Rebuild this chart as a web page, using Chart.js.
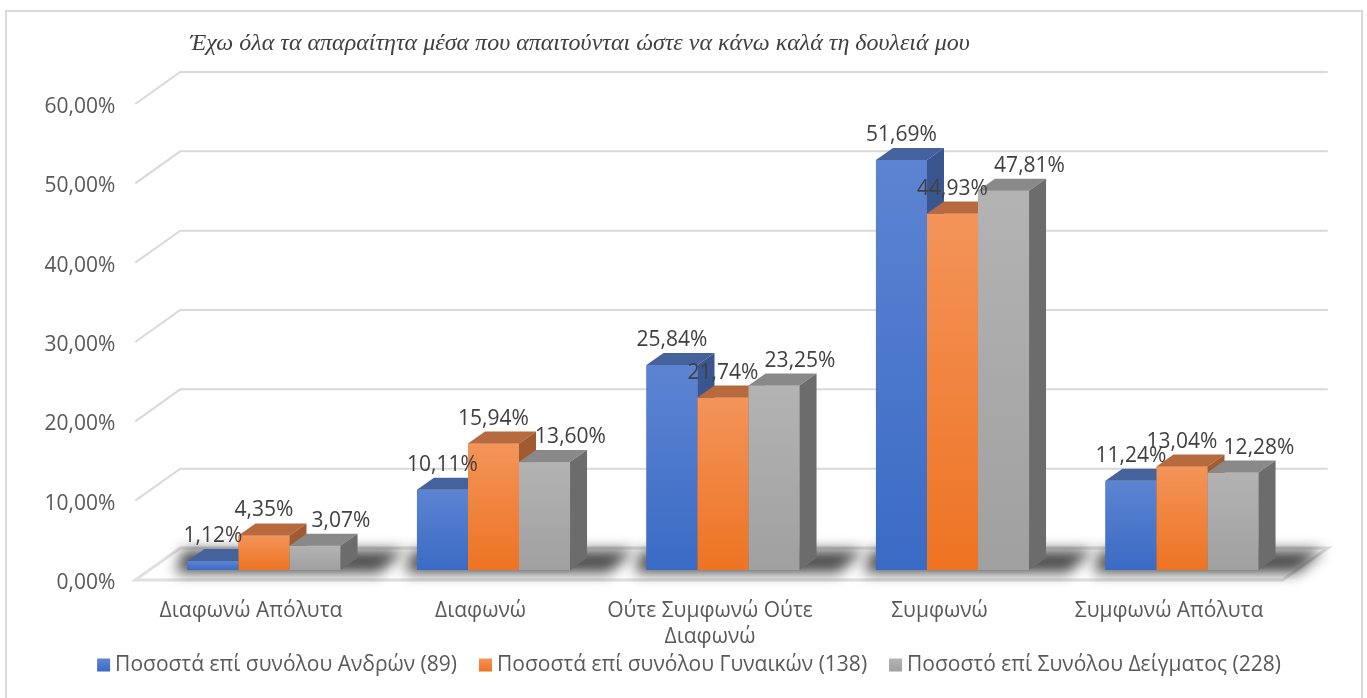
<!DOCTYPE html>
<html lang="el">
<head>
<meta charset="utf-8">
<title>Μέσα εργασίας</title>
<script src="https://cdn.jsdelivr.net/npm/chart.js"></script>
<style>
  html, body { margin: 0; padding: 0; background: #fff; overflow: hidden; }
</style>
</head>
<body>
<canvas id="chart" width="1367" height="698"></canvas>
<script>
// answers per category, in percent
const categories = ['Διαφωνώ Απόλυτα', 'Διαφωνώ', ['Ούτε Συμφωνώ Ούτε', 'Διαφωνώ'], 'Συμφωνώ', 'Συμφωνώ Απόλυτα'];
const seriesNames = [
  'Ποσοστά επί συνόλου Ανδρών (89)',
  'Ποσοστά επί συνόλου Γυναικών (138)',
  'Ποσοστό επί Συνόλου Δείγματος (228)'
];
const men = [1.12, 10.11, 25.84, 51.69, 11.24];
const women = [4.35, 15.94, 21.74, 44.93, 13.04];
const sample = [3.07, 13.60, 23.25, 47.81, 12.28];
const yTicks = [0, 10, 20, 30, 40, 50, 60];
const chartTitle = 'Έχω όλα τα απαραίτητα μέσα που απαιτούνται ώστε να κάνω καλά τη δουλειά μου';

const FONT = '"Open Sans", sans-serif';
const TEXT = '#595959';
const fmt = v => v.toFixed(2).replace('.', ',') + '%';

// face colours for each series: front gradient, top cap, right side
const palette = [
  { top: '#5d84d2', bottom: '#3a6bc5', cap: '#46629c', side: '#3a5690', flat: '#4472c4' },
  { top: '#f39459', bottom: '#ee7322', cap: '#b86a3f', side: '#a25a30', flat: '#ed7d31' },
  { top: '#b3b3b3', bottom: '#a0a0a0', cap: '#898989', side: '#6c6c6c', flat: '#a5a5a5' }
];

// oblique offsets: front edge of the floor, bar depth, back wall
const FRONT = { dx: -14, dy: 10 };
const DEPTH = { dx: 17, dy: -12 };
const BACK = { dx: 31, dy: -22 };
const labelShift = [0, 0, 26];

function poly(ctx, pts) {
  ctx.beginPath();
  ctx.moveTo(pts[0][0], pts[0][1]);
  for (let i = 1; i < pts.length; i++) ctx.lineTo(pts[i][0], pts[i][1]);
  ctx.closePath();
}

function barBox(el) {
  const p = el.getProps(['x', 'y', 'base', 'width'], true);
  return { x0: p.x - p.width / 2, x1: p.x + p.width / 2, top: p.y, base: p.base, cx: p.x };
}

const bars3d = {
  id: 'bars3d',
  beforeDraw(chart) {
    const ctx = chart.ctx;
    ctx.save();
    ctx.fillStyle = '#ffffff';
    ctx.fillRect(0, 0, chart.width, chart.height);
    ctx.strokeStyle = '#d9d9d9';
    ctx.lineWidth = 2;
    ctx.strokeRect(6, 11, 1356, 720);
    ctx.font = 'italic 24px "Liberation Serif", serif';
    ctx.fillStyle = '#404040';
    ctx.textBaseline = 'middle';
    ctx.fillText(chartTitle, 190, 44);
    ctx.restore();
  },
  beforeDatasetsDraw(chart) {
    const { ctx, chartArea: a, scales: { y } } = chart;
    ctx.save();
    // back wall gridlines with the left-wall diagonal
    ctx.strokeStyle = '#d9d9d9';
    ctx.lineWidth = 2;
    yTicks.forEach(v => {
      if (v === 0) return;
      const py = y.getPixelForValue(v);
      ctx.beginPath();
      ctx.moveTo(a.left + FRONT.dx, py + FRONT.dy);
      ctx.lineTo(a.left + BACK.dx, py + BACK.dy);
      ctx.lineTo(a.right + BACK.dx, py + BACK.dy);
      ctx.stroke();
    });
    // floor
    const y0 = y.getPixelForValue(0);
    poly(ctx, [
      [a.left + FRONT.dx, y0 + FRONT.dy], [a.right + FRONT.dx, y0 + FRONT.dy],
      [a.right + BACK.dx, y0 + BACK.dy], [a.left + BACK.dx, y0 + BACK.dy]
    ]);
    ctx.fillStyle = '#ffffff';
    ctx.fill();
    ctx.lineWidth = 3;
    ctx.strokeStyle = '#e0e0e0';
    ctx.stroke();
    // soft shadows under each group
    const first = chart.getDatasetMeta(0).data;
    const last = chart.getDatasetMeta(chart.data.datasets.length - 1).data;
    ctx.filter = 'blur(7px)';
    ctx.fillStyle = 'rgba(0,0,0,0.7)';
    first.forEach((el, j) => {
      const b0 = barBox(el), b1 = barBox(last[j]);
      poly(ctx, [
        [b0.x0 - 12, b0.base + 3], [b1.x1 + DEPTH.dx + 22, b0.base + 3],
        [b1.x1 + DEPTH.dx + 48, b0.base - 20], [b0.x0 - 4, b0.base - 20]
      ]);
      ctx.fill();
    });
    ctx.filter = 'none';
    ctx.restore();
  },
  afterDatasetsDraw(chart) {
    const ctx = chart.ctx;
    const n = chart.data.datasets.length;
    ctx.save();
    chart.data.labels.forEach((_, j) => {
      for (let i = 0; i < n; i++) {
        const b = barBox(chart.getDatasetMeta(i).data[j]);
        const c = palette[i];
        const g = ctx.createLinearGradient(0, b.top, 0, b.base);
        g.addColorStop(0, c.top);
        g.addColorStop(1, c.bottom);
        ctx.fillStyle = g;
        ctx.fillRect(b.x0, b.top, b.x1 - b.x0, b.base - b.top);
        poly(ctx, [[b.x0, b.top], [b.x1, b.top], [b.x1 + DEPTH.dx, b.top + DEPTH.dy], [b.x0 + DEPTH.dx, b.top + DEPTH.dy]]);
        ctx.fillStyle = c.cap;
        ctx.fill();
        poly(ctx, [[b.x1, b.top], [b.x1 + DEPTH.dx, b.top + DEPTH.dy], [b.x1 + DEPTH.dx, b.base + DEPTH.dy], [b.x1, b.base]]);
        ctx.fillStyle = c.side;
        ctx.fill();
      }
    });
    // value labels
    ctx.font = '21px ' + FONT;
    ctx.fillStyle = '#404040';
    ctx.textAlign = 'center';
    ctx.textBaseline = 'middle';
    chart.data.datasets.forEach((ds, i) => {
      chart.getDatasetMeta(i).data.forEach((el, j) => {
        const b = barBox(el);
        ctx.fillText(fmt(ds.data[j]), b.cx + labelShift[i], b.top - 25);
      });
    });
    ctx.restore();
  },
  afterDraw(chart) {
    // legend row
    const ctx = chart.ctx;
    ctx.save();
    ctx.font = '21px ' + FONT;
    ctx.textBaseline = 'middle';
    const box = 13, gapText = 5, gapItem = 22;
    const widths = seriesNames.map(s => ctx.measureText(s).width);
    const total = widths.reduce((s, w) => s + box + gapText + w, 0) + gapItem * (seriesNames.length - 1);
    let x = 689 - total / 2;
    const cy = 665;
    seriesNames.forEach((s, i) => {
      const g = ctx.createLinearGradient(0, cy - box / 2, 0, cy + box / 2);
      g.addColorStop(0, palette[i].top);
      g.addColorStop(1, palette[i].bottom);
      ctx.fillStyle = g;
      ctx.fillRect(x, cy - box / 2, box, box);
      ctx.fillStyle = TEXT;
      ctx.fillText(s, x + box + gapText, cy);
      x += box + gapText + widths[i] + gapItem;
    });
    ctx.restore();
  }
};

Chart.defaults.font.family = FONT;

new Chart(document.getElementById('chart'), {
  type: 'bar',
  data: {
    labels: categories,
    datasets: [men, women, sample].map((d, i) => ({
      label: seriesNames[i],
      data: d,
      backgroundColor: palette[i].flat,
      borderWidth: 0,
      categoryPercentage: 0.667,
      barPercentage: 1
    }))
  },
  options: {
    responsive: false,
    animation: false,
    devicePixelRatio: 1,
    layout: { padding: { top: 94, right: 70.25, bottom: 40, left: 0 } },
    scales: {
      x: {
        grid: { display: false, drawTicks: false },
        border: { display: false },
        ticks: { color: TEXT, font: { size: 21, lineHeight: 1.25 }, padding: 28, labelOffset: -13, maxRotation: 0, autoSkip: false },
        afterFit(s) { s.height = 88; }
      },
      y: {
        min: 0,
        max: 60,
        grid: { display: false, drawTicks: false },
        border: { display: false },
        ticks: { stepSize: 10, color: TEXT, font: { size: 21 }, padding: 34, labelOffset: 13, callback: v => fmt(v) },
        afterFit(s) { s.width = 149.25; }
      }
    },
    plugins: {
      legend: { display: false },
      tooltip: { enabled: false },
      title: { display: false }
    }
  },
  plugins: [bars3d]
});
</script>
</body>
</html>
